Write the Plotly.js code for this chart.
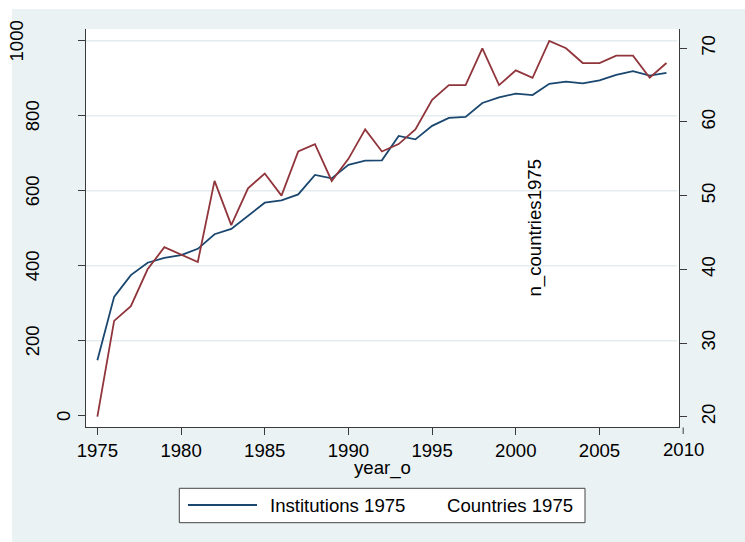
<!DOCTYPE html>
<html><head><meta charset="utf-8">
<script src="https://cdn.plot.ly/plotly-3.0.1.min.js"></script>
<style>
html,body{margin:0;padding:0;background:#ffffff;width:745px;height:542px;overflow:hidden}
#bg{position:absolute;left:12px;top:9px;width:733px;height:533px;background:#EAF2F3}
#chart{position:absolute;left:0;top:0;width:745px;height:542px}
</style></head><body><div id="bg"></div><div id="chart"></div>
<script>
// ---- data ----
const years = [1975,1976,1977,1978,1979,1980,1981,1982,1983,1984,1985,1986,1987,1988,1989,1990,1991,1992,1993,1994,1995,1996,1997,1998,1999,2000,2001,2002,2003,2004,2005,2006,2007,2008,2009];
const institutions1975 = [148,317,375,408,421,428,445,484,498,532,568,574,590,642,633,669,680,681,746,737,773,794,797,834,849,859,855,885,891,886,894,909,919,907,914];
const countries1975 = [20,33,35,40,43,42,41,52,46,51,53,50,56,57,52,55,59,56,57,59,63,65,65,70,65,67,66,71,70,68,68,69,69,66,68];
const seriesNames = ['Institutions 1975','Countries 1975'];
const xTickVals = [1975,1980,1985,1990,1995,2000,2005,2010];
const yTickVals = [0,200,400,600,800,1000];
const y2TickVals = [20,30,40,50,60,70];
const xTitle = 'year_o';
const y2Title = 'n_countries1975';

// ---- style / geometry ----
const W = 745, H = 542, L = 86, R = 66, T = 29, B = 115;
const plotW = W - L - R, plotH = H - T - B;
const xRange = [1974.32, 2009.75];
const yRange = [-30.1, 1031.2];
const y2Range = [18.60, 72.62];
const FONT = 'Liberation Sans, Arial, sans-serif';
const FS = 18.6;
const TXT = '#000000';
const AX = '#3a3a3a';
const BLUE = '#1A476F', RED = '#90353B';
const GRID = '#E3ECEE';
const px = xd => (xd - L) / plotW;          // page px -> paper x
const py = yd => (T + plotH - yd) / plotH;  // page px (from top) -> paper y

const inRange = v => v >= xRange[0] && v <= xRange[1];
const xIn = xTickVals.filter(inRange);
const xOut = xTickVals.filter(v => !inRange(v));

const traces = [
  {x: years, y: institutions1975, name: seriesNames[0], type: 'scatter', mode: 'lines',
   line: {color: BLUE, width: 1.8}, yaxis: 'y', showlegend: false},
  {x: years, y: countries1975, name: seriesNames[1], type: 'scatter', mode: 'lines',
   line: {color: RED, width: 1.8}, yaxis: 'y2', showlegend: false}
];

const shapes = [];
const annotations = [];

// horizontal grid lines at left-axis ticks (none at the baseline 0)
yTickVals.filter(v => v !== 0).forEach(v => {
  shapes.push({type: 'line', xref: 'x domain', yref: 'y', x0: 0, x1: 0.997, y0: v, y1: v,
    line: {color: GRID, width: 1.6}, layer: 'below'});
});

// left axis tick labels (rotated, Stata-style offset by label length)
yTickVals.forEach(v => {
  const s = String(v);
  annotations.push({xref: 'paper', yref: 'y', x: 0, y: v, text: s, showarrow: false,
    textangle: -90, xanchor: 'right', yanchor: 'middle', borderpad: 0,
    xshift: 5.5 - 15.8 * s.length, font: {family: FONT, size: FS, color: TXT}});
});

// x ticks beyond the plotted range (2010)
xOut.forEach(v => {
  const xp = (v - xRange[0]) / (xRange[1] - xRange[0]);
  shapes.push({type: 'line', xref: 'paper', yref: 'paper', x0: xp, x1: xp,
    y0: py(427.5), y1: py(434), line: {color: AX, width: 1}});
  annotations.push({xref: 'paper', yref: 'paper', x: xp, y: py(438.2), text: String(v),
    showarrow: false, xanchor: 'center', yanchor: 'top', borderpad: 0,
    font: {family: FONT, size: FS, color: TXT}});
});

// x axis title
annotations.push({xref: 'paper', yref: 'paper', x: 0.5, y: py(456), text: xTitle,
  showarrow: false, xanchor: 'center', yanchor: 'top', borderpad: 0,
  font: {family: FONT, size: FS, color: TXT}});

// right-axis title drawn inside the plot, as in the original
annotations.push({xref: 'paper', yref: 'paper', x: px(534), y: py(227.5), text: y2Title,
  showarrow: false, textangle: -90, xanchor: 'center', yanchor: 'middle', borderpad: 0,
  font: {family: FONT, size: FS, color: TXT}});

// legend box (Stata style: key only for the first series)
shapes.push({type: 'rect', xref: 'paper', yref: 'paper', x0: px(179.3), x1: px(585),
  y0: py(522.7), y1: py(488.3), fillcolor: '#ffffff', line: {color: '#444444', width: 1}});
shapes.push({type: 'line', xref: 'paper', yref: 'paper', x0: px(188), x1: px(257),
  y0: py(505), y1: py(505), line: {color: BLUE, width: 1.8}});
annotations.push({xref: 'paper', yref: 'paper', x: px(269), y: py(505), text: seriesNames[0],
  showarrow: false, xanchor: 'left', yanchor: 'middle', borderpad: 0,
  font: {family: FONT, size: FS, color: TXT}});
annotations.push({xref: 'paper', yref: 'paper', x: px(446), y: py(505), text: seriesNames[1],
  showarrow: false, xanchor: 'left', yanchor: 'middle', borderpad: 0,
  font: {family: FONT, size: FS, color: TXT}});

const layout = {
  width: W, height: H,
  margin: {l: L, r: R, t: T, b: B, pad: 0},
  paper_bgcolor: 'rgba(0,0,0,0)', plot_bgcolor: '#ffffff',
  font: {family: FONT, size: FS, color: TXT},
  showlegend: false,
  xaxis: {range: xRange, tickvals: xIn, ticks: 'outside', ticklen: 7, tickwidth: 1, tickcolor: AX,
    showline: true, linecolor: AX, linewidth: 1, showgrid: false, zeroline: false,
    tickfont: {family: FONT, size: FS, color: TXT}},
  yaxis: {range: yRange, tickvals: yTickVals, ticks: 'outside', ticklen: 7, tickwidth: 1, tickcolor: AX,
    showticklabels: false, showline: true, linecolor: AX, linewidth: 1, showgrid: false, zeroline: false},
  yaxis2: {range: y2Range, overlaying: 'y', side: 'right', tickvals: y2TickVals, ticks: 'outside',
    ticklen: 7, tickwidth: 1, tickcolor: AX, tickangle: -90, ticklabelstandoff: 6,
    tickfont: {family: FONT, size: FS, color: TXT},
    showline: true, linecolor: AX, linewidth: 1, showgrid: false, zeroline: false},
  shapes: shapes,
  annotations: annotations
};

Plotly.newPlot('chart', traces, layout, {displayModeBar: false, staticPlot: true});
</script></body></html>
